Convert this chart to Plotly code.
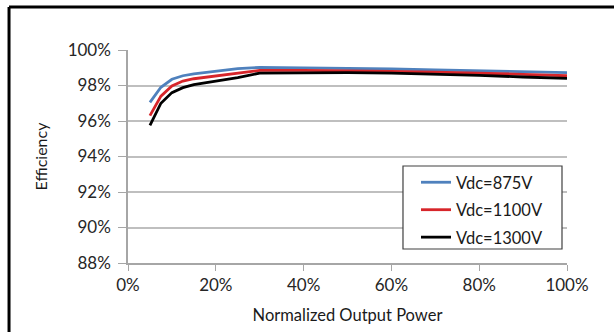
import plotly.graph_objects as go

power = [0.05, 0.075, 0.10, 0.125, 0.15, 0.20, 0.25, 0.30, 0.40, 0.50, 0.60, 0.70, 0.80, 0.90, 1.00]
eff_875 = [0.9705, 0.979, 0.9835, 0.9855, 0.9865, 0.988, 0.9895, 0.9902, 0.9900, 0.9898, 0.9893, 0.9888, 0.9883, 0.9877, 0.9872]
eff_1100 = [0.963, 0.974, 0.9798, 0.9825, 0.9838, 0.9855, 0.9870, 0.9885, 0.9885, 0.9884, 0.9880, 0.9875, 0.9870, 0.9863, 0.9855]
eff_1300 = [0.9575, 0.970, 0.9760, 0.9788, 0.9805, 0.9825, 0.9845, 0.9870, 0.9872, 0.9872, 0.9870, 0.9865, 0.9857, 0.9848, 0.9840]
series_names = ["Vdc=875V", "Vdc=1100V", "Vdc=1300V"]
series_colors = ["#4f81bd", "#d7252a", "#000000"]
x_ticks = [0, 0.2, 0.4, 0.6, 0.8, 1.0]
y_ticks = [0.88, 0.90, 0.92, 0.94, 0.96, 0.98, 1.00]

fig = go.Figure()
for name, ys, col in zip(series_names, [eff_875, eff_1100, eff_1300], series_colors):
    fig.add_trace(go.Scatter(x=power, y=ys, mode="lines", name=name, legendgroup=name,
                             line=dict(color=col, width=2.8)))

font = "Lato, Open Sans, Liberation Sans, sans-serif"
fig.update_layout(
    width=614, height=332,
    margin=dict(l=128, r=47, t=50, b=69, autoexpand=False),
    paper_bgcolor="white", plot_bgcolor="white",
    font=dict(family=font, size=17, color="#262626"),
    showlegend=True,
    legend=dict(x=0.656, y=0.46, xanchor="left", yanchor="top",
                borderwidth=0, bgcolor="rgba(0,0,0,0)",
                font=dict(size=16.5, color="#1a1a1a"),
                tracegroupgap=3, itemwidth=30),
    xaxis=dict(range=[0, 1], tickvals=x_ticks, tickformat=".0%", automargin=False,
               showgrid=False, zeroline=False, showline=True,
               linecolor="#a6a6a6", linewidth=1.5,
               ticks="outside", ticklen=6, tickcolor="#a6a6a6",
               title=dict(text="Normalized Output Power", font=dict(size=16.5, color="#1a1a1a"), standoff=15)),
    yaxis=dict(range=[0.88, 1.00], tickvals=y_ticks, tickformat=".0%", automargin=False,
               showgrid=True, gridcolor="#bfbfbf", gridwidth=1.5, zeroline=False,
               showline=True, linecolor="#a6a6a6", linewidth=1.5,
               ticks="outside", ticklen=8, tickcolor="#a6a6a6", ticklabelstandoff=4,
               title=dict(text="Efficiency", font=dict(size=16, color="#1a1a1a"), standoff=16)),
)

# legend frame
fig.add_shape(type="rect", xref="paper", yref="paper",
              x0=0.6264, x1=0.9886, y0=0.0657, y1=0.4554,
              line=dict(color="#404040", width=1.2), fillcolor="white", layer="above")

# outer frame (top and left edges visible)
fig.add_shape(type="line", xref="paper", yref="paper",
              x0=-0.271, y0=-0.35, x1=-0.271, y1=1.202,
              line=dict(color="black", width=3))
fig.add_shape(type="line", xref="paper", yref="paper",
              x0=-0.271, y0=1.202, x1=1.15, y1=1.202,
              line=dict(color="black", width=3))

fig.write_html("out.html", config={"displayModeBar": False},
               post_script="document.body.style.margin='0';")
